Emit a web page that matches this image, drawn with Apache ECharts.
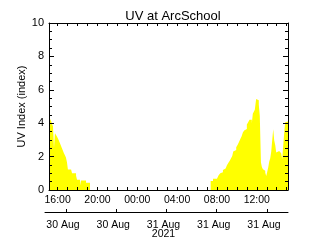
<!DOCTYPE html>
<html><head><meta charset="utf-8">
<script src="https://cdn.jsdelivr.net/npm/echarts@6/dist/echarts.min.js"></script>
<style>html,body{margin:0;padding:0;background:#fff}#c{width:320px;height:240px}</style>
</head><body><div id="c"></div>
<script>
// ---- data ----
const times = [
 '2021-08-30 15:08','2021-08-30 15:20','2021-08-30 15:32','2021-08-30 15:38','2021-08-30 15:44',
 '2021-08-30 15:56','2021-08-30 16:02','2021-08-30 16:08','2021-08-30 16:14','2021-08-30 16:20',
 '2021-08-30 16:26','2021-08-30 16:32','2021-08-30 16:38','2021-08-30 16:44','2021-08-30 16:50',
 '2021-08-30 16:56','2021-08-30 17:02','2021-08-30 17:21','2021-08-30 17:27','2021-08-30 17:51',
 '2021-08-30 17:57','2021-08-30 18:15','2021-08-30 18:21','2021-08-30 18:51','2021-08-30 19:15',
 '2021-08-31 07:22','2021-08-31 07:36','2021-08-31 08:00','2021-08-31 08:10','2021-08-31 08:20',
 '2021-08-31 08:28','2021-08-31 08:36','2021-08-31 08:46','2021-08-31 08:52','2021-08-31 09:00',
 '2021-08-31 09:08','2021-08-31 09:16','2021-08-31 09:24','2021-08-31 09:32','2021-08-31 09:38',
 '2021-08-31 09:46','2021-08-31 09:56','2021-08-31 10:04','2021-08-31 10:12','2021-08-31 10:20',
 '2021-08-31 10:28','2021-08-31 10:36','2021-08-31 10:44','2021-08-31 10:52','2021-08-31 11:00',
 '2021-08-31 11:08','2021-08-31 11:16','2021-08-31 11:24','2021-08-31 11:30','2021-08-31 11:36',
 '2021-08-31 11:42','2021-08-31 11:48','2021-08-31 11:56','2021-08-31 12:06','2021-08-31 12:12',
 '2021-08-31 12:18','2021-08-31 12:25','2021-08-31 12:31','2021-08-31 12:37','2021-08-31 12:43',
 '2021-08-31 12:51','2021-08-31 12:57','2021-08-31 13:03','2021-08-31 13:09','2021-08-31 13:15',
 '2021-08-31 13:21','2021-08-31 13:27','2021-08-31 13:33','2021-08-31 13:39','2021-08-31 13:45',
 '2021-08-31 13:51','2021-08-31 13:57','2021-08-31 14:03','2021-08-31 14:09','2021-08-31 14:15',
 '2021-08-31 14:21','2021-08-31 14:27','2021-08-31 14:33','2021-08-31 14:39','2021-08-31 14:45',
 '2021-08-31 14:51','2021-08-31 14:57','2021-08-31 15:08'
];
const uv = [
 4.35,4.15,3.8,2.5,3.4,
 3.2,3.1,2.95,2.8,2.7,
 2.5,2.4,2.2,2.08,1.94,
 1.67,1.23,1.13,1.01,0.86,
 0.61,0.27,0.57,0.43,0,
 0.54,0.68,0.76,0.88,1.0,
 1.06,1.2,1.28,1.38,1.48,
 1.62,1.74,1.88,2.04,2.3,
 2.4,2.56,2.7,2.86,3.04,
 3.2,3.44,3.56,3.66,3.92,
 4.06,4.2,4.2,4.0,4.56,
 4.6,4.8,5.45,5.37,5.1,
 4.44,1.64,1.36,1.24,1.16,
 1.04,0.84,1.1,1.36,1.7,
 1.9,2.3,3.0,3.64,2.96,
 2.7,2.24,2.28,2.34,2.34,
 2.3,2.2,1.84,1.8,3.4,
 4.06,4.1,4.1
];
const timeTickHours = [16,20,24,28,32,36];
const timeTickLabels = ['16:00','20:00','00:00','04:00','08:00','12:00'];
const dateTickPos = [0,1,2,3,4];
const dateLabels = ['30 Aug','30 Aug','31 Aug','31 Aug','31 Aug'];
const yearLabel = '2021';
const titleText = 'UV at ArcSchool';
const yName = 'UV Index (index)';
const axisStart = '2021-08-30 15:08';
const axisEnd = '2021-08-31 15:08';

// ---- helpers ----
function toHours(s){
  const d = parseInt(s.slice(8,10),10), h = parseInt(s.slice(11,13),10), m = parseInt(s.slice(14,16),10);
  return (d-30)*24 + h + m/60;
}
const xMin = toHours(axisStart), xMax = toHours(axisEnd);
const hourTicks = [];
for (let h = Math.ceil(xMin); h <= xMax; h++) hourTicks.push(h);

const font = '"Liberation Sans", Arial, sans-serif';
const black = '#000';

const chart = echarts.init(document.getElementById('c'), null, {renderer:'canvas'});
const timeAxisBase = {
  gridIndex:0, type:'value', min:xMin, max:xMax, z:10,
  splitLine:{show:false},
  axisLine:{show:true, onZero:false, lineStyle:{color:black, width:1}},
  axisTick:{show:true, inside:true, length:3, customValues:hourTicks, lineStyle:{color:black}}
};
const yAxisBase = {
  gridIndex:0, type:'value', min:0, max:10, interval:2, z:10,
  splitLine:{show:false},
  axisLine:{show:true, onZero:false, lineStyle:{color:black, width:1}},
  axisTick:{show:true, inside:true, length:5, lineStyle:{color:black}},
  minorTick:{show:true, splitNumber:4, length:3, lineStyle:{color:black}}
};

chart.setOption({
  animation:false,
  backgroundColor:'#fff',
  title:{text:titleText, left:168, top:5, textAlign:'center',
    textStyle:{fontFamily:font, fontSize:13, fontWeight:'normal', color:black}},
  grid:[
    {left:49, top:23, width:239, height:167},
    {left:45, top:211, width:243, height:1}
  ],
  xAxis:[
    Object.assign({}, timeAxisBase, {position:'bottom',
      axisLabel:{show:true, customValues:timeTickHours, margin:5, color:black, fontFamily:font, fontSize:10.5,
        formatter:function(v){ const i = timeTickHours.indexOf(Math.round(v)); return i>=0 ? timeTickLabels[i] : ''; }}}),
    Object.assign({}, timeAxisBase, {position:'top', axisLabel:{show:false}}),
    {gridIndex:1, type:'value', min:-0.418, max:4.418, position:'bottom', z:10,
      splitLine:{show:false},
      axisLine:{show:true, onZero:false, lineStyle:{color:black, width:1}},
      axisTick:{show:true, inside:true, length:3, customValues:dateTickPos, lineStyle:{color:black}},
      axisLabel:{show:true, customValues:dateTickPos, margin:9, padding:[0,6,0,0], lineHeight:9,
        color:black, fontFamily:font, fontSize:10.5,
        formatter:function(v){ const i = Math.round(v); return dateLabels[i] + (i===2 ? '\n'+yearLabel : ''); }}}
  ],
  yAxis:[
    Object.assign({}, yAxisBase, {position:'left',
      axisLabel:{show:true, margin:5, color:black, fontFamily:font, fontSize:11},
      name:yName, nameLocation:'middle', nameGap:22, nameRotate:90, nameMoveOverlap:false,
      nameTextStyle:{color:black, fontFamily:font, fontSize:11}}),
    Object.assign({}, yAxisBase, {position:'right', axisLabel:{show:false}}),
    {gridIndex:1, type:'value', show:false}
  ],
  series:[{
    type:'line', xAxisIndex:0, yAxisIndex:0, step:'end',
    data: times.map(function(t,i){ return [toHours(t), uv[i]]; }),
    showSymbol:false, symbol:'none',
    lineStyle:{width:0, color:'#ffff00'},
    areaStyle:{color:'#ffff00', opacity:1},
    z:1
  }]
});
</script>
</body></html>
